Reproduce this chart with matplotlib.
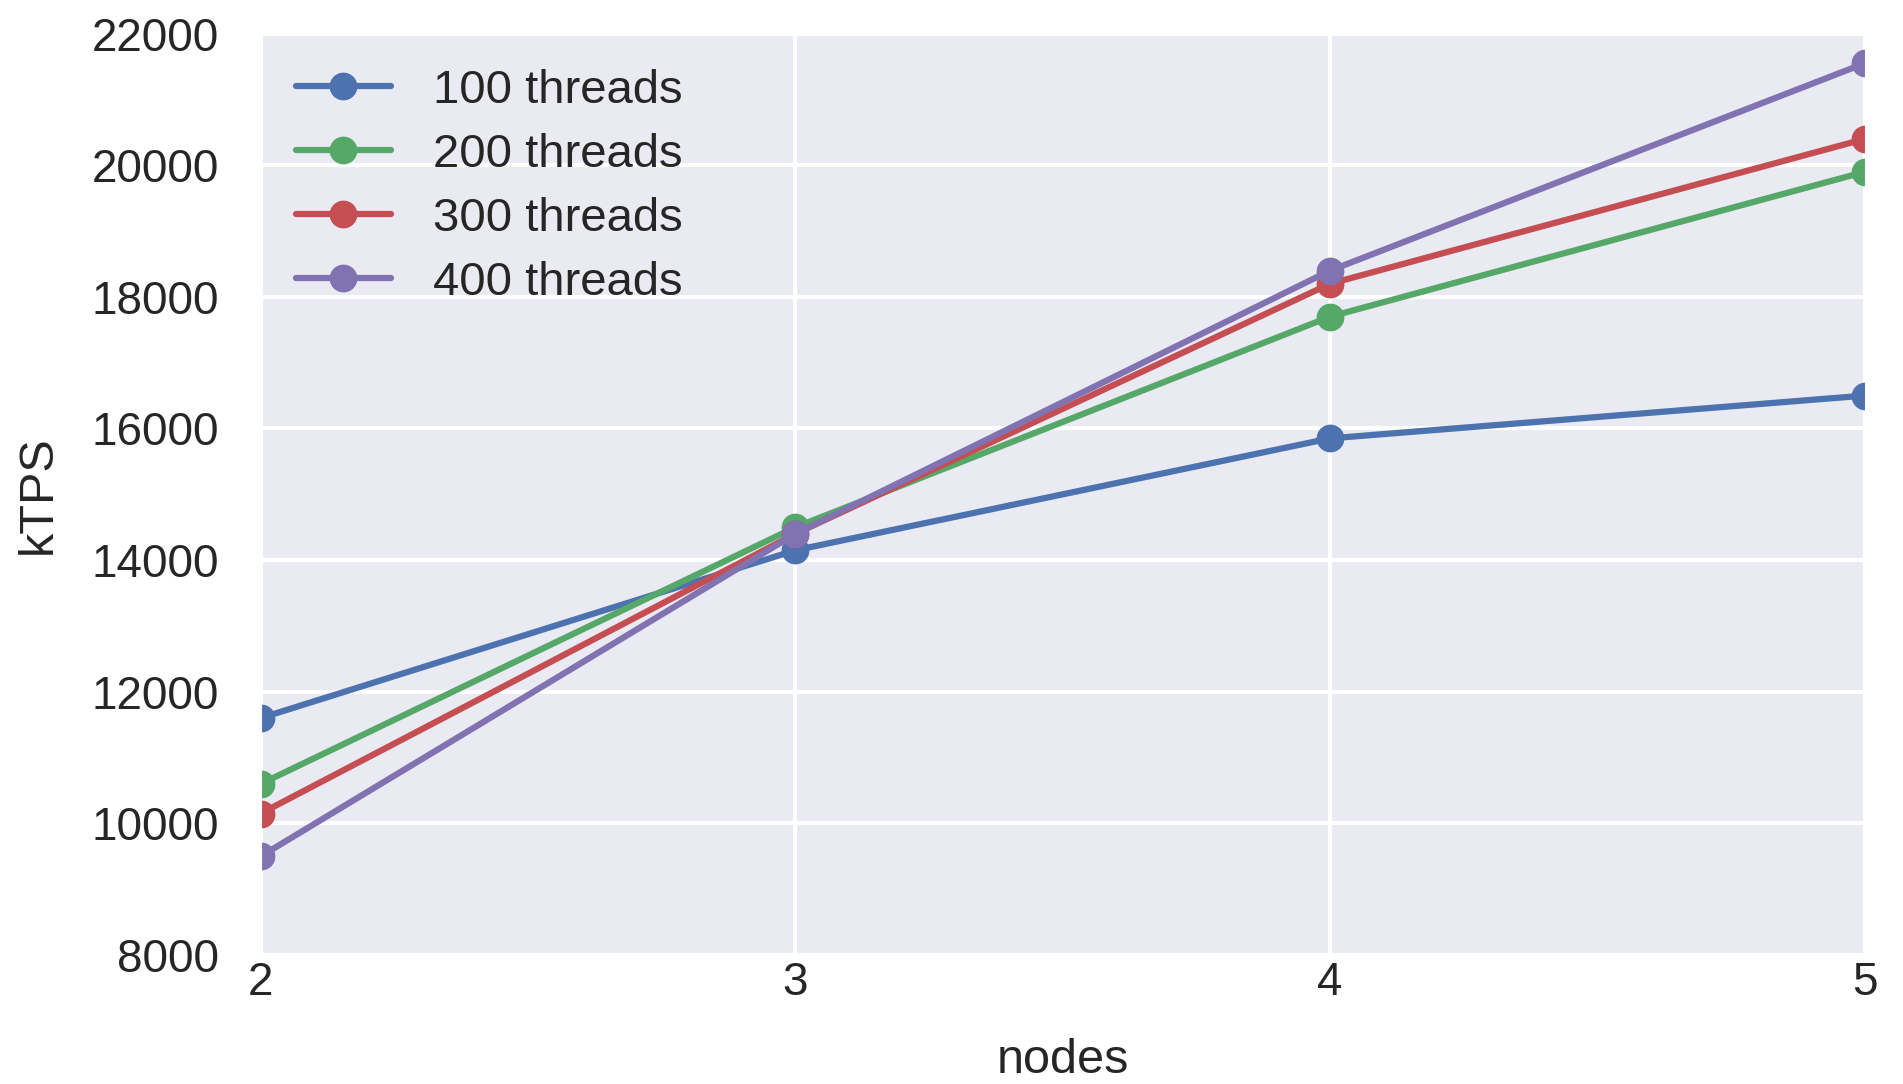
import matplotlib
matplotlib.use("Agg")
import matplotlib.pyplot as plt
import seaborn as sns

nodes = [2, 3, 4, 5]
t100 = [11600, 14150, 15850, 16500]
t200 = [10600, 14500, 17700, 19900]
t300 = [10150, 14400, 18200, 20400]
t400 = [9500, 14400, 18400, 21550]
labels = ["100 threads", "200 threads", "300 threads", "400 threads"]
colors = ["#4C72B0", "#55A868", "#C44E52", "#8172B2"]
yticks = [8000, 10000, 12000, 14000, 16000, 18000, 20000, 22000]

sns.set_style("darkgrid")
plt.rcParams['font.family'] = ['Liberation Sans', 'DejaVu Sans']

fig = plt.figure(figsize=(19.03, 10.84), dpi=100)
ax = fig.add_axes([0.137, 0.119, 0.843, 0.850])

for ys, lab, c in zip([t100, t200, t300, t400], labels, colors):
    ax.plot(nodes, ys, marker='o', color=c, lw=4.5, ms=19, label=lab)

ax.set_xlim(2, 5)
ax.set_ylim(8000, 22000)
ax.set_xticks(nodes)
ax.set_yticks(yticks)
ax.tick_params(axis='both', labelsize=33, colors='#262626', length=0)
ax.tick_params(axis='y', pad=30)
ax.tick_params(axis='x', pad=4)
for g in ax.get_xgridlines() + ax.get_ygridlines():
    g.set_linewidth(3)
ax.set_xlabel("nodes", fontsize=35, color='#262626', labelpad=24)
ax.set_ylabel("kTPS", fontsize=35, color='#262626', labelpad=22)
ax.legend(loc='upper left', fontsize=34, frameon=False, handlelength=2.0,
          labelspacing=0.42, borderaxespad=0.35, handletextpad=0.9)

fig.savefig("out.png", dpi=100)
